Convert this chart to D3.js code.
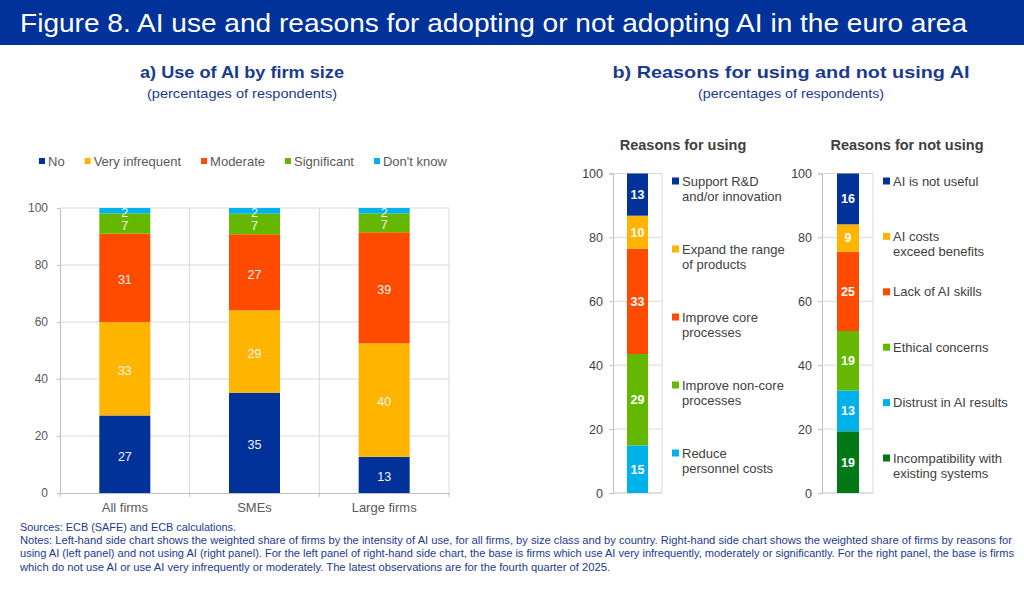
<!DOCTYPE html>
<html>
<head>
<meta charset="utf-8">
<script src="https://cdn.jsdelivr.net/npm/d3@7"></script>
<style>
  body { margin: 0; background: #fff; }
  svg { display: block; font-family: "Liberation Sans", Arial, sans-serif; }
</style>
</head>
<body>
<svg id="chart" width="1024" height="589"></svg>
<script>
// ---- data: left chart (use of AI by firm size) ----
var sizeCategories = ["All firms", "SMEs", "Large firms"];
var useLevels = ["No", "Very infrequent", "Moderate", "Significant", "Don't know"];
var useNo = [27.2, 35.2, 12.7];
var useVeryInfrequent = [32.8, 28.9, 39.8];
var useModerate = [31.0, 26.7, 39.0];
var useSignificant = [7.1, 7.2, 6.6];
var useDontKnow = [1.9, 2.0, 1.9];

// ---- data: right chart (reasons), listed bottom -> top ----
var usingReasons = ["Reduce\npersonnel costs", "Improve non-core\nprocesses", "Improve core\nprocesses", "Expand the range\nof products", "Support R&D\nand/or innovation"];
var usingValues = [14.9, 28.6, 33.0, 10.3, 13.2];
var notUsingReasons = ["Incompatibility with\nexisting systems", "Distrust in AI results", "Ethical concerns", "Lack of AI skills", "AI costs\nexceed benefits", "AI is not useful"];
var notUsingValues = [19.3, 12.8, 18.6, 24.8, 8.6, 15.9];

var yTicks = [0, 20, 40, 60, 80, 100];

var blue = "#003299", yellow = "#ffb400", orange = "#ff4b00", green = "#65b800", cyan = "#00b1ea", darkGreen = "#007816";
var useColors = [blue, yellow, orange, green, cyan];
var usingColors = [cyan, green, orange, yellow, blue];
var notUsingColors = [darkGreen, cyan, green, orange, yellow, blue];
var grid = "#d9d9d9", axisCol = "#bfbfbf", textGrey = "#595959", textDark = "#404040", navy = "#1a3a8f";

var svg = d3.select("#chart");

// ---- header ----
svg.append("rect").attr("x", 0).attr("y", 0).attr("width", 1024).attr("height", 45).attr("fill", blue);
svg.append("text").attr("x", 20).attr("y", 32).attr("fill", "#fff").attr("font-size", 25)
  .attr("textLength", 947).attr("lengthAdjust", "spacingAndGlyphs")
  .text("Figure 8. AI use and reasons for adopting or not adopting AI in the euro area");

function heading(cx, title, tw, sub, sw) {
  svg.append("text").attr("x", cx).attr("y", 78).attr("text-anchor", "middle").attr("fill", navy)
    .attr("font-size", 17).attr("font-weight", "bold")
    .attr("textLength", tw).attr("lengthAdjust", "spacingAndGlyphs").text(title);
  svg.append("text").attr("x", cx).attr("y", 98).attr("text-anchor", "middle").attr("fill", navy)
    .attr("font-size", 13).attr("textLength", sw).attr("lengthAdjust", "spacingAndGlyphs").text(sub);
}
heading(242, "a) Use of AI by firm size", 204, "(percentages of respondents)", 190);
heading(791, "b) Reasons for using and not using AI", 357, "(percentages of respondents)", 186);

// ---- left chart ----
var x = d3.scaleBand().domain(sizeCategories).range([60, 449]);
var y = d3.scaleLinear().domain([0, 100]).range([493, 208]);
var barW = 51;

var rows = sizeCategories.map(function (c, i) {
  return { cat: c, "No": useNo[i], "Very infrequent": useVeryInfrequent[i], "Moderate": useModerate[i],
    "Significant": useSignificant[i], "Don't know": useDontKnow[i] };
});
var stacked = d3.stack().keys(useLevels)(rows);

var left = svg.append("g");
left.append("g").selectAll("line").data(yTicks.slice(1)).enter().append("line")
  .attr("x1", 60).attr("x2", 449).attr("y1", d => y(d)).attr("y2", d => y(d)).attr("stroke", grid);
left.append("g").selectAll("line").data(sizeCategories.slice(1).concat(["end"])).enter().append("line")
  .attr("x1", (d, i) => x(sizeCategories[0]) + x.bandwidth() * (i + 1))
  .attr("x2", (d, i) => x(sizeCategories[0]) + x.bandwidth() * (i + 1))
  .attr("y1", y(100)).attr("y2", y(0)).attr("stroke", grid);

var yAxisL = left.append("g").attr("transform", "translate(60,0)")
  .call(d3.axisLeft(y).tickValues(yTicks).tickSize(3).tickPadding(9));
yAxisL.select(".domain").attr("stroke", axisCol);
yAxisL.selectAll(".tick line").attr("stroke", axisCol);
yAxisL.selectAll(".tick text").attr("fill", textGrey).attr("font-size", 12).attr("font-family", "Liberation Sans, Arial, sans-serif");

var xAxisL = left.append("g").attr("transform", "translate(0,493)")
  .call(d3.axisBottom(x).tickSize(0).tickPadding(10));
xAxisL.select(".domain").attr("stroke", axisCol);
xAxisL.selectAll(".tick text").attr("fill", textGrey).attr("font-size", 13).attr("font-family", "Liberation Sans, Arial, sans-serif");
xAxisL.append("g").selectAll("line").data([0, 1, 2, 3]).enter().append("line")
  .attr("x1", d => 60 + x.bandwidth() * d).attr("x2", d => 60 + x.bandwidth() * d)
  .attr("y1", 0).attr("y2", 4).attr("stroke", axisCol);

var layer = left.selectAll(".layer").data(stacked).enter().append("g")
  .attr("fill", (d, i) => useColors[i]);
layer.selectAll("rect").data(d => d).enter().append("rect")
  .attr("x", d => x(d.data.cat) + (x.bandwidth() - barW) / 2)
  .attr("width", barW)
  .attr("y", d => y(d[1])).attr("height", d => y(d[0]) - y(d[1]));
layer.selectAll("text").data(d => d).enter().append("text")
  .attr("x", d => x(d.data.cat) + x.bandwidth() / 2)
  .attr("y", d => (y(d[0]) + y(d[1])) / 2 + 2)
  .attr("dy", "0.35em").attr("text-anchor", "middle")
  .attr("fill", "#f4f4f4").attr("font-size", 12.5)
  .text(d => Math.round(d[1] - d[0]));

// legend (left)
var legL = svg.append("g").attr("transform", "translate(39,161)");
var lx = 0;
useLevels.forEach(function (k, i) {
  var g = legL.append("g").attr("transform", "translate(" + lx + ",0)");
  g.append("rect").attr("x", 0).attr("y", -3).attr("width", 6).attr("height", 6).attr("fill", useColors[i]);
  var t = g.append("text").attr("x", 9).attr("y", 4.5).attr("fill", textGrey).attr("font-size", 13).text(k);
  lx += 9 + t.node().getComputedTextLength() + 20;
});

// ---- right chart ----
var yR = d3.scaleLinear().domain([0, 100]).range([493, 173.5]);

function reasonPanel(opts) {
  var g = svg.append("g");
  var x0 = opts.x0, x1 = opts.x1;
  g.append("text").attr("x", opts.titleX).attr("y", 150).attr("text-anchor", "middle")
    .attr("fill", textDark).attr("font-size", 14.5).attr("font-weight", "bold").text(opts.title);
  g.append("g").selectAll("line").data(yTicks.slice(1)).enter().append("line")
    .attr("x1", x0).attr("x2", x1).attr("y1", d => yR(d)).attr("y2", d => yR(d)).attr("stroke", grid);
  g.append("line").attr("x1", x1).attr("x2", x1).attr("y1", yR(100)).attr("y2", yR(0)).attr("stroke", grid);
  g.append("line").attr("x1", x0).attr("x2", x1).attr("y1", yR(0)).attr("y2", yR(0)).attr("stroke", axisCol);

  var ax = g.append("g").attr("transform", "translate(" + x0 + ",0)")
    .call(d3.axisLeft(yR).tickValues(yTicks).tickSize(4).tickPadding(6));
  ax.select(".domain").attr("stroke", axisCol);
  ax.selectAll(".tick line").attr("stroke", axisCol);
  ax.selectAll(".tick text").attr("fill", textDark).attr("font-size", 12.5).attr("font-family", "Liberation Sans, Arial, sans-serif");

  var ends = d3.cumsum(opts.values);
  var segs = opts.values.map((v, i) => ({ v: v, top: ends[i], bottom: ends[i] - v, c: opts.colors[i], label: opts.labels[i] }));
  g.append("g").selectAll("rect").data(segs).enter().append("rect")
    .attr("x", opts.bx).attr("width", opts.bw)
    .attr("y", d => yR(d.top)).attr("height", d => yR(d.bottom) - yR(d.top))
    .attr("fill", d => d.c);
  g.append("g").selectAll("text").data(segs).enter().append("text")
    .attr("x", opts.bx + opts.bw / 2).attr("y", d => (yR(d.top) + yR(d.bottom)) / 2)
    .attr("dy", "0.35em").attr("text-anchor", "middle").attr("fill", "#fff")
    .attr("font-size", 12.5).attr("font-weight", "bold").text(d => Math.round(d.v));

  // legend, top -> bottom
  var ly = d3.scalePoint().domain(d3.range(segs.length)).range([opts.ly0, opts.ly1]);
  var items = segs.slice().reverse();
  var lg = g.append("g").selectAll("g").data(items).enter().append("g")
    .attr("transform", (d, i) => "translate(" + opts.lx + "," + ly(i) + ")");
  lg.append("rect").attr("x", 0).attr("y", -3.5).attr("width", 7).attr("height", 7).attr("fill", d => d.c);
  lg.append("text").attr("fill", textDark).attr("font-size", 13)
    .selectAll("tspan").data(d => d.label.split("\n")).enter().append("tspan")
    .attr("x", 10).attr("y", (d, i) => 4.5 + i * 15).text(d => d);
}

reasonPanel({ title: "Reasons for using", titleX: 683, x0: 613, x1: 662, bx: 627, bw: 21,
  values: usingValues, colors: usingColors, labels: usingReasons, lx: 672, ly0: 181, ly1: 453 });
reasonPanel({ title: "Reasons for not using", titleX: 907, x0: 822, x1: 873, bx: 837, bw: 22,
  values: notUsingValues, colors: notUsingColors, labels: notUsingReasons, lx: 883, ly0: 181, ly1: 458 });

// ---- footer ----
var notes = [
  { t: "Sources: ECB (SAFE) and ECB calculations.", w: 216, y: 531 },
  { t: "Notes: Left-hand side chart shows the weighted share of firms by the intensity of AI use, for all firms, by size class and by country. Right-hand side chart shows the weighted share of firms by reasons for", w: 992, y: 544 },
  { t: "using AI (left panel) and not using AI (right panel). For the left panel of right-hand side chart, the base is firms which use AI very infrequently, moderately or significantly. For the right panel, the base is firms", w: 994, y: 557 },
  { t: "which do not use AI or use AI very infrequently or moderately. The latest observations are for the fourth quarter of 2025.", w: 590, y: 571 }
];
svg.append("g").selectAll("text").data(notes).enter().append("text")
  .attr("x", 20).attr("y", d => d.y).attr("fill", navy).attr("font-size", 10.5)
  .attr("font-family", "'Liberation Sans Narrow', 'Arial Narrow', 'Liberation Sans', sans-serif")
  .attr("textLength", d => d.w).attr("lengthAdjust", "spacingAndGlyphs").text(d => d.t);
</script>
</body>
</html>
